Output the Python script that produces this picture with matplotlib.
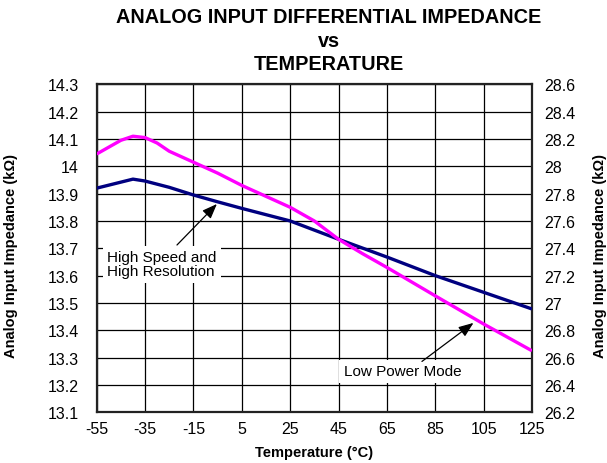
import matplotlib
matplotlib.use('Agg')
import matplotlib.pyplot as plt
from matplotlib.ticker import FuncFormatter

plt.rcParams['font.family'] = ['Liberation Sans', 'DejaVu Sans']
plt.rcParams['axes.unicode_minus'] = False

# data
temp_hs = [-55, -40, -35, -25, -15, -5, 5, 25, 45, 65, 85, 105, 125]
imp_hs = [13.92, 13.953, 13.946, 13.923, 13.895, 13.87, 13.846, 13.80, 13.733, 13.668, 13.60, 13.539, 13.478]

temp_lp = [-55, -45, -40, -35, -30, -25, -15, -5, 5, 15, 25, 35, 45, 55, 65, 85, 105, 125]
imp_lp = [14.045, 14.095, 14.11, 14.105, 14.085, 14.055, 14.015, 13.975, 13.93, 13.89, 13.85, 13.80,
          13.733, 13.68, 13.63, 13.526, 13.423, 13.325]

x_ticks = [-55, -35, -15, 5, 25, 45, 65, 85, 105, 125]
y_left = [13.1, 13.2, 13.3, 13.4, 13.5, 13.6, 13.7, 13.8, 13.9, 14.0, 14.1, 14.2, 14.3]
y_right = [26.2, 26.4, 26.6, 26.8, 27.0, 27.2, 27.4, 27.6, 27.8, 28.0, 28.2, 28.4, 28.6]

fig = plt.figure(figsize=(6.07, 4.64), dpi=100)
ax = fig.add_axes([0.1593, 0.1093, 0.7171, 0.7069])

ax.plot(temp_hs, imp_hs, color='#000080', lw=2.4, zorder=3, solid_capstyle='butt')
ax.plot(temp_lp, imp_lp, color='#ff00ff', lw=2.4, zorder=3, solid_capstyle='butt')

ax.set_xlim(-55, 125)
ax.set_ylim(13.1, 14.3)
ax.set_xticks(x_ticks)
ax.set_yticks(y_left)
ax.grid(True, color='black', lw=0.9)
ax.set_axisbelow(True)
fmt = FuncFormatter(lambda v, p: '%g' % round(v, 2))
ax.yaxis.set_major_formatter(fmt)
ax.tick_params(axis='y', length=0, pad=13, labelsize=11.5)
ax.tick_params(axis='x', length=0, pad=6, labelsize=11.5)
for s in ax.spines.values():
    s.set_linewidth(1.6)
    s.set_color('#222222')

ax.set_xlabel('Temperature (°C)', fontsize=10.5, fontweight='bold', labelpad=7)
ax.set_ylabel('Analog Input Impedance (k\u03a9)', fontsize=10.5, fontweight='bold')
ax.yaxis.set_label_coords(-0.18, 0.48)

ax2 = ax.twinx()
ax2.set_ylim(26.2, 28.6)
ax2.set_yticks(y_right)
ax2.yaxis.set_major_formatter(fmt)
ax2.tick_params(axis='y', length=0, pad=9, labelsize=11.5)
for s in ax2.spines.values():
    s.set_visible(False)
ax2.set_ylabel('Analog Input Impedance (k\u03a9)', fontsize=10.5, fontweight='bold')
ax2.yaxis.set_label_coords(1.14, 0.48)

box = dict(boxstyle='square,pad=0.3', facecolor='white', edgecolor='none')
ax.text(-50.7, 13.641, 'High Speed and\nHigh Resolution', fontsize=11, ha='left', va='center',
        linespacing=1.0, bbox=box, zorder=4)
ax.text(47.3, 13.25, 'Low Power Mode', fontsize=11, ha='left', va='center', bbox=box, zorder=4)

arrow = dict(arrowstyle='-|>,head_length=0.9,head_width=0.35', color='black', lw=0.9,
             shrinkA=0, shrinkB=0)
ax.annotate('', xy=(-5.3, 13.862), xytext=(-21.8, 13.712), arrowprops=arrow, zorder=5)
ax.annotate('', xy=(100.8, 13.427), xytext=(79.5, 13.286), arrowprops=arrow, zorder=5)

fig.text(0.542, 0.962, 'ANALOG INPUT DIFFERENTIAL IMPEDANCE', ha='center', va='center',
         fontsize=14.3, fontweight='bold')
fig.text(0.542, 0.91, 'vs', ha='center', va='center', fontsize=14.3, fontweight='bold')
fig.text(0.542, 0.862, 'TEMPERATURE', ha='center', va='center', fontsize=14.3, fontweight='bold')

fig.savefig('out.png', dpi=100)
